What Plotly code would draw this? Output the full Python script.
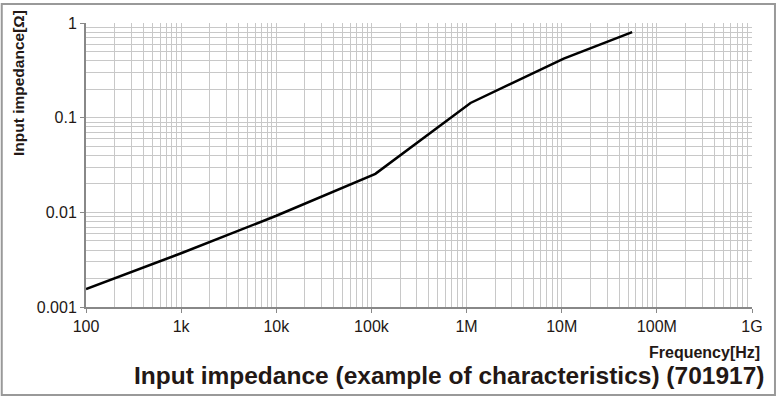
import plotly.graph_objects as go

freq_hz = [100, 1e3, 1e4, 1.1e5, 1.1e6, 1.05e7, 5.5e7]
impedance_ohm = [0.00155, 0.0037, 0.0092, 0.0255, 0.143, 0.42, 0.80]

x_tickvals = [1e2, 1e3, 1e4, 1e5, 1e6, 1e7, 1e8, 1e9]
x_ticktext = ["100", "1k", "10k", "100k", "1M", "10M", "100M", "1G"]
y_tickvals = [0.001, 0.01, 0.1, 1]
y_ticktext = ["0.001", "0.01", "0.1", "1"]

font_fam = "Liberation Sans, Arial, sans-serif"
grid_c = "#c8c8c8"

fig = go.Figure()
fig.add_trace(go.Scatter(x=freq_hz, y=impedance_ohm, mode="lines",
                         line=dict(color="black", width=2.5), showlegend=False))

fig.update_layout(
    width=777, height=400,
    margin=dict(l=86, r=25, t=23, b=93),
    paper_bgcolor="white", plot_bgcolor="white",
    font=dict(family=font_fam, size=16, color="#231815"),
    xaxis=dict(type="log", range=[2, 9], tickvals=x_tickvals, ticktext=x_ticktext,
               showgrid=True, gridcolor=grid_c, gridwidth=1,
               minor=dict(dtick="D1", showgrid=True, gridcolor=grid_c, gridwidth=1),
               showline=True, linecolor="#888888", linewidth=2, mirror=False,
               ticks="outside", ticklen=4, tickcolor="#888888", zeroline=False),
    yaxis=dict(type="log", range=[-3, 0], tickvals=y_tickvals, ticktext=y_ticktext,
               showgrid=True, gridcolor=grid_c, gridwidth=1,
               minor=dict(dtick="D1", showgrid=True, gridcolor=grid_c, gridwidth=1),
               showline=True, linecolor="#888888", linewidth=2, mirror=False,
               ticks="outside", ticklen=4, tickcolor="#888888", zeroline=False),
    shapes=[dict(type="rect", xref="x domain", yref="y domain", x0=-0.1265, x1=1.0345,
                 y0=-0.31, y1=1.067, line=dict(color="#999999", width=2), layer="below")],
    annotations=[
        dict(text="<b>Input impedance (example of characteristics) (701917)</b>",
             xref="paper", yref="paper", x=1.0, y=-0.188, xanchor="right", yanchor="top",
             xshift=14, showarrow=False, font=dict(size=24.5, color="#231815")),
        dict(text="<b>Frequency[Hz]</b>", xref="paper", yref="paper", x=1.0, y=-0.122,
             xanchor="right", yanchor="top", xshift=10, showarrow=False,
             font=dict(size=16, color="#231815")),
        dict(text="<b>Input impedance[Ω]</b>", xref="paper", yref="paper", x=0, y=1.0,
             xanchor="center", yanchor="top", xshift=-68, yshift=15, textangle=-90,
             showarrow=False, font=dict(size=15.5, color="#231815")),
    ],
)

fig.write_html("out.html")
